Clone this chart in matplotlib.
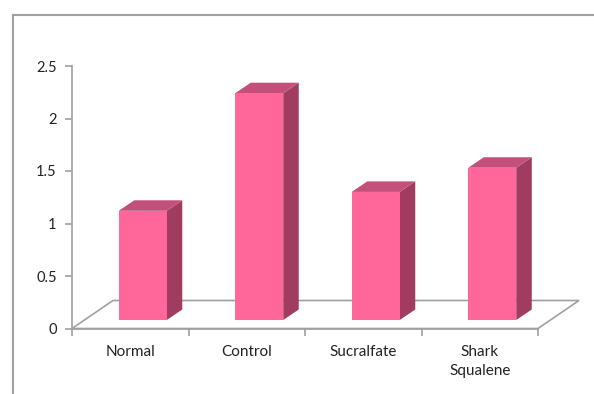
import matplotlib.pyplot as plt
from matplotlib.patches import Polygon
from matplotlib.lines import Line2D

categories = ['Normal', 'Control', 'Sucralfate', 'Shark\nSqualene']
values = [1.04, 2.16, 1.22, 1.45]
y_ticks = [0, 0.5, 1, 1.5, 2, 2.5]

FRONT = '#ff6699'
TOP = '#c2507a'
SIDE = '#a03c5f'
LINE = '#a0a0a0'

plt.rcParams['font.family'] = ['Lato', 'DejaVu Sans']

fig = plt.figure(figsize=(5.94, 3.94), dpi=100)
W, H = 594.0, 394.0
ax = fig.add_axes([72 / W, (H - 328.5) / H, (538 - 72) / W, (328.5 - 66) / H])
ax.set_xlim(-0.5, len(categories) - 0.5)
ax.set_ylim(0, 2.5)

# pixel -> data conversion (linear axes)
px_x = (538 - 72) / len(categories)
px_y = (328.5 - 66) / 2.5


def dx(px):
    return px / px_x


def dy(px):
    return px / px_y


# floor (parallelogram behind the bars)
fx0, fx1 = -0.5, len(categories) - 0.5
floor = Polygon([(fx0, 0), (fx1, 0), (fx1 + dx(41), dy(28)), (fx0 + dx(41), dy(28))],
                closed=True, facecolor='white', edgecolor=LINE, lw=1.2, clip_on=False, zorder=1)
ax.add_patch(floor)

# 3d-ish bars
bw = 48 / px_x
ox, oy = dx(12.5), dy(8.5)
sx, sy = dx(15.5), dy(10.5)
for i, v in enumerate(values):
    x0 = i - bw / 2 + ox
    x1 = x0 + bw
    y0 = oy
    y1 = oy + v
    ax.add_patch(Polygon([(x1, y0), (x1 + sx, y0 + sy), (x1 + sx, y1 + sy), (x1, y1)],
                         facecolor=SIDE, edgecolor='none', clip_on=False, zorder=3))
    ax.add_patch(Polygon([(x0, y1), (x1, y1), (x1 + sx, y1 + sy), (x0 + sx, y1 + sy)],
                         facecolor=TOP, edgecolor='none', clip_on=False, zorder=3))
    ax.bar(x0, v, width=bw, bottom=y0, align='edge', color=FRONT, zorder=4, clip_on=False)

for s in ['top', 'right']:
    ax.spines[s].set_visible(False)
for s in ['left', 'bottom']:
    ax.spines[s].set_color(LINE)
    ax.spines[s].set_linewidth(1.2)

ax.set_yticks(y_ticks)
ax.set_yticklabels([f'{t:g}' for t in y_ticks])
ax.set_xticks([i + 0.5 for i in range(-1, len(categories))], minor=False)
ax.set_xticklabels([])
ax.set_xticks(range(len(categories)), minor=True)
ax.set_xticklabels(categories, minor=True, linespacing=1.45)
ax.tick_params(axis='x', which='major', length=5, color=LINE, width=1.2)
ax.tick_params(axis='x', which='minor', length=0, pad=12, labelsize=11, labelcolor='#222222')
ax.tick_params(axis='y', length=5, color=LINE, width=1.2, pad=6, labelsize=10.5, labelcolor='#222222')

# chart border (only top and left visible)
fig.add_artist(Line2D([13 / W, 1], [1 - 15 / H, 1 - 15 / H], color=LINE, lw=1.5))
fig.add_artist(Line2D([13 / W, 13 / W], [1 - 15 / H, 0], color=LINE, lw=1.5))

fig.savefig('out.png', dpi=100)
